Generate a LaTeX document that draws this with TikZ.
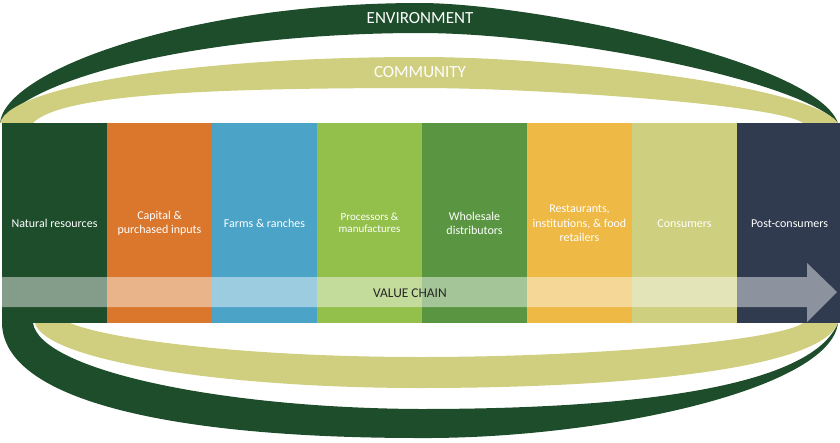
\documentclass[tikz,border=0pt]{standalone}
\usepackage{fontspec}
\setmainfont{Carlito}
\usepackage{xcolor}
\usetikzlibrary{positioning}

\definecolor{envgreen}{HTML}{1E4D2B}
\definecolor{commkhaki}{HTML}{D0CE7F}
\definecolor{caporange}{HTML}{DA772D}
\definecolor{farmblue}{HTML}{4BA3C7}
\definecolor{procgreen}{HTML}{93C04B}
\definecolor{wholegreen}{HTML}{5A9642}
\definecolor{restyellow}{HTML}{EEB944}
\definecolor{conskhaki}{HTML}{CFCF80}
\definecolor{postnavy}{HTML}{313B4F}

\begin{document}
\begin{tikzpicture}[
    x=1pt, y=-1pt,
    stage/.style={
        rectangle,
        inner sep=0pt,
        minimum width=104.6pt,
        minimum height=200pt,
        text=white,
        align=center,
        font=\fontsize{12}{14.6}\selectfont
    },
    ringlabel/.style={
        text=white,
        anchor=base,
        font=\fontsize{17}{20}\selectfont
    }
]
\useasboundingbox (0,0) rectangle (840,442);

% Environment ring (top, bottom)
\fill[envgreen] (0,123) .. controls (5,70) and (190,3) .. (420,3)
    .. controls (530,3) and (815,60) .. (838,123)
    .. controls (800,80) and (560,33) .. (420,33)
    .. controls (230,33) and (40,70) .. (0,123) -- cycle;
\fill[envgreen] (2,323) .. controls (3,400) and (170,438) .. (420,438)
    .. controls (600,439) and (830,390) .. (838,323)
    .. controls (810,390) and (620,409) .. (420,409)
    .. controls (220,408) and (40,370) .. (33,323) -- cycle;

% Community ring (top, bottom)
\fill[commkhaki] (0,123) .. controls (10,85) and (200,57) .. (420,57)
    .. controls (560,57) and (810,85) .. (838,123) -- (803,123)
    .. controls (780,105) and (540,88) .. (420,88)
    .. controls (200,88) and (60,95) .. (33,123) -- cycle;
\fill[commkhaki] (35,323) .. controls (45,360) and (220,388) .. (420,388)
    .. controls (620,388) and (820,370) .. (838,323) -- (803,323)
    .. controls (780,340) and (600,357) .. (420,357)
    .. controls (250,357) and (110,340) .. (70,323) -- cycle;

\node[ringlabel] (environment) at (420,23) {ENVIRONMENT};
\node[ringlabel] (community) at (420,77) {COMMUNITY};

% Value chain stages
\node[stage, fill=envgreen, anchor=north west] (natural) at (2,123) {Natural resources};
\node[stage, fill=caporange, right=0pt of natural] (capital) {Capital \&\\purchased inputs};
\node[stage, fill=farmblue, right=0pt of capital] (farms) {Farms \& ranches};
\node[stage, fill=procgreen, right=0pt of farms, font=\fontsize{11}{12}\selectfont] (processors) {Processors \&\\manufactures};
\node[stage, fill=wholegreen, right=0pt of processors] (wholesale) {Wholesale\\distributors};
\node[stage, fill=restyellow, right=0pt of wholesale] (restaurants) {Restaurants,\\institutions, \& food\\retailers};
\node[stage, fill=conskhaki, right=0pt of restaurants] (consumers) {Consumers};
\node[stage, fill=postnavy, right=0pt of consumers] (postconsumers) {Post-consumers};

% Value chain arrow
\fill[white, fill opacity=0.45] (2,277) -- (807,277) -- (807,263) -- (837,292)
    -- (807,322) -- (807,307) -- (2,307) -- cycle;
\node[anchor=base, text=black!85, font=\fontsize{13.4}{16}\selectfont] (valuechain) at (410,297) {VALUE CHAIN};

\end{tikzpicture}
\end{document}
